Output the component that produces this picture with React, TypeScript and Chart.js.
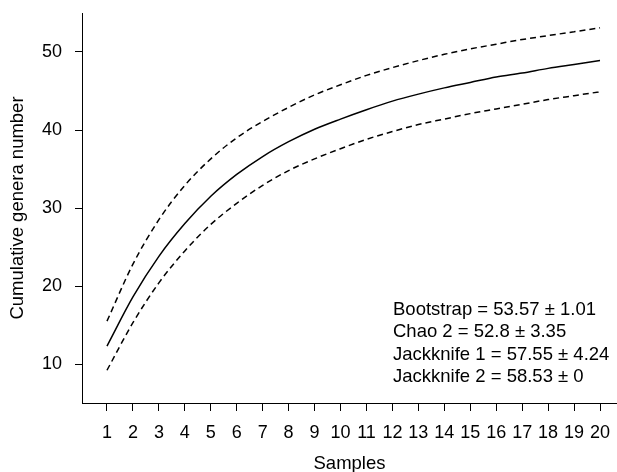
import React, { useEffect, useRef } from "react";
import { Chart, registerables } from "chart.js";

Chart.register(...registerables);

// ---- data ----
const samples = [1, 2, 3, 4, 5, 6, 7, 8, 9, 10, 11, 12, 13, 14, 15, 16, 17, 18, 19, 20];
const observed = [12.3, 18.6, 23.8, 28.0, 31.5, 34.3, 36.6, 38.5, 40.1, 41.4, 42.6, 43.7, 44.6, 45.4, 46.1, 46.8, 47.3, 47.9, 48.4, 48.9];
const upperCI = [15.5, 22.8, 28.5, 32.9, 36.3, 39.0, 41.1, 42.9, 44.5, 45.8, 47.0, 48.0, 48.9, 49.7, 50.4, 51.0, 51.6, 52.1, 52.6, 53.1];
const lowerCI = [9.2, 15.3, 20.4, 24.5, 27.9, 30.6, 32.9, 34.8, 36.3, 37.6, 38.8, 39.8, 40.7, 41.4, 42.1, 42.7, 43.3, 43.9, 44.4, 44.9];
const xTicks = samples;
const yTicks = [10, 20, 30, 40, 50];
const estimators = [
  "Bootstrap = 53.57 ± 1.01",
  "Chao 2 = 52.8 ± 3.35",
  "Jackknife 1 = 57.55 ± 4.24",
  "Jackknife 2 = 58.53 ± 0",
];
const xTitle = "Samples";
const yTitle = "Cumulative genera number";

const FONT = '"Liberation Sans", Arial, Helvetica, sans-serif';

const toPoints = (ys: number[]) => samples.map((x, i) => ({ x, y: ys[i] }));

const annotationPlugin = {
  id: "estimatorText",
  afterDraw(chart: any) {
    const { ctx, chartArea } = chart;
    ctx.save();
    ctx.font = `18.5px ${FONT}`;
    ctx.fillStyle = "#000";
    ctx.textAlign = "left";
    ctx.textBaseline = "alphabetic";
    estimators.forEach((t, i) => {
      ctx.fillText(t, chartArea.left + 311, chartArea.bottom - 88 + i * 22.3);
    });
    ctx.restore();
  },
};

export default function App() {
  const ref = useRef<HTMLCanvasElement | null>(null);

  useEffect(() => {
    if (!ref.current) return;
    const lineBase = {
      borderColor: "#000",
      borderWidth: 1.5,
      pointRadius: 0,
      pointHoverRadius: 0,
      fill: false,
      tension: 0.4,
      cubicInterpolationMode: "monotone" as const,
    };
    const chart = new Chart(ref.current, {
      type: "line",
      data: {
        datasets: [
          { ...lineBase, label: "Observed", data: toPoints(observed) },
          { ...lineBase, label: "Upper 95% CI", data: toPoints(upperCI), borderDash: [6, 4] },
          { ...lineBase, label: "Lower 95% CI", data: toPoints(lowerCI), borderDash: [6, 4] },
        ],
      },
      options: {
        animation: false,
        responsive: false,
        layout: { padding: { top: 13, right: 0, left: 0, bottom: 0 } },
        plugins: { legend: { display: false }, tooltip: { enabled: false } },
        scales: {
          x: {
            type: "linear",
            min: 0.037,
            max: 20.655,
            afterBuildTicks: (axis: any) => {
              axis.ticks = xTicks.map((v) => ({ value: v }));
            },
            afterFit: (axis: any) => {
              axis.height = 69;
              axis.paddingLeft = 0;
              axis.paddingRight = 0;
            },
            grid: {
              drawOnChartArea: false,
              drawTicks: true,
              tickLength: 8,
              tickColor: "#000",
              tickWidth: 1,
              color: "#000",
            },
            border: { display: true, color: "#000", width: 1 },
            ticks: {
              autoSkip: false,
              maxRotation: 0,
              minRotation: 0,
              padding: 11,
              color: "#000",
              font: { family: FONT, size: 18 },
              callback: (v: any) => String(v),
            },
            title: {
              display: true,
              text: xTitle,
              color: "#000",
              font: { family: FONT, size: 18.5, lineHeight: 0.9 },
              padding: { top: 0, bottom: 0 },
            },
          },
          y: {
            type: "linear",
            min: 5,
            max: 55,
            afterBuildTicks: (axis: any) => {
              axis.ticks = yTicks.map((v) => ({ value: v }));
            },
            afterFit: (axis: any) => {
              axis.width = 82;
              axis.paddingTop = 0;
              axis.paddingBottom = 0;
            },
            grid: {
              drawOnChartArea: false,
              drawTicks: true,
              tickLength: 7,
              tickColor: "#000",
              tickWidth: 1,
              color: "#000",
            },
            border: { display: true, color: "#000", width: 1 },
            ticks: {
              padding: 13,
              color: "#000",
              font: { family: FONT, size: 18 },
              callback: (v: any) => String(v),
            },
            title: {
              display: true,
              text: yTitle,
              color: "#000",
              font: { family: FONT, size: 18.5, lineHeight: 1 },
              padding: { top: 9, bottom: 0 },
            },
          },
        },
      },
      plugins: [annotationPlugin],
    });
    return () => chart.destroy();
  }, []);

  return (
    <div style={{ position: "absolute", left: 0, top: 0, width: 617, height: 472, background: "#fff" }}>
      <canvas ref={ref} width={617} height={472} style={{ display: "block", width: 617, height: 472 }} />
    </div>
  );
}
